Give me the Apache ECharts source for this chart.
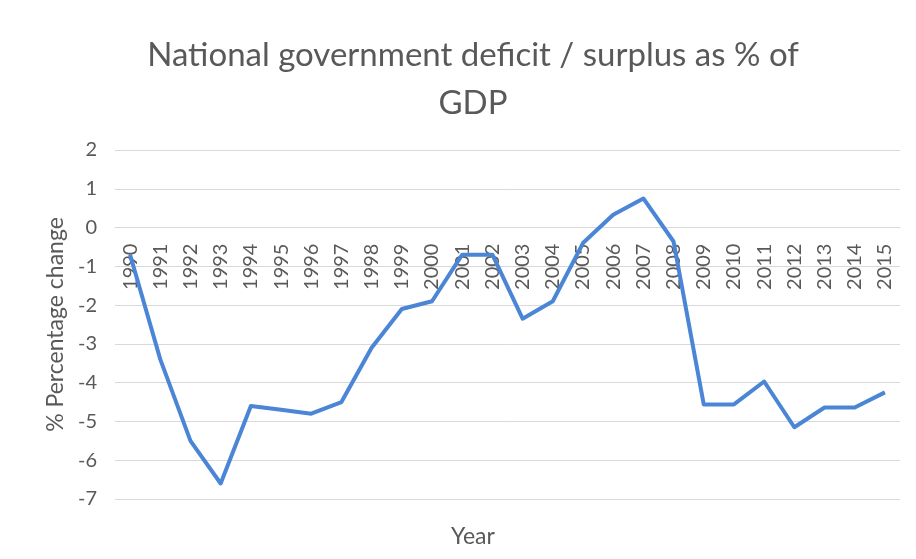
<!DOCTYPE html>
<html>
<head>
<meta charset="utf-8">
<script src="https://cdn.jsdelivr.net/npm/echarts@6/dist/echarts.min.js"></script>
<style>
  html, body { margin: 0; padding: 0; background: #ffffff; }
  #chart { width: 916px; height: 559px; }
</style>
</head>
<body>
<div id="chart"></div>
<script>
// Years on the category axis
const years = ['1990','1991','1992','1993','1994','1995','1996','1997','1998','1999',
  '2000','2001','2002','2003','2004','2005','2006','2007','2008','2009',
  '2010','2011','2012','2013','2014','2015'];

// Government balance, % of GDP
const balance = [-0.7, -3.4, -5.5, -6.6, -4.6, -4.7, -4.8, -4.5, -3.1, -2.1,
  -1.9, -0.7, -0.7, -2.35, -1.9, -0.4, 0.33, 0.75, -0.36, -4.56,
  -4.56, -3.97, -5.15, -4.64, -4.64, -4.25];

// Value axis range
const yMin = -7;
const yMax = 2;
const yStep = 1;

const textColor = '#595959';
const fontFamily = 'Lato, "Open Sans", sans-serif';

// Plot area
const gridTop = 150;
const gridBottom = 60;
const chartHeight = 559;
const plotHeight = chartHeight - gridTop - gridBottom;
// Shift the category axis up so it sits on the zero line
const zeroOffset = -((0 - yMin) / (yMax - yMin)) * plotHeight;

const chart = echarts.init(document.getElementById('chart'), null, { renderer: 'canvas' });

chart.setOption({
  backgroundColor: '#ffffff',
  animation: false,
  title: [
    {
      text: 'National government deficit / surplus as % of\nGDP',
      left: 468,
      top: 26,
      textAlign: 'center',
      textStyle: {
        color: textColor,
        fontFamily: fontFamily,
        fontSize: 33,
        fontWeight: 'normal',
        lineHeight: 48
      }
    },
    {
      text: 'Year',
      left: 468,
      top: 520,
      textAlign: 'center',
      textStyle: {
        color: textColor,
        fontFamily: fontFamily,
        fontSize: 23,
        fontWeight: 'normal'
      }
    }
  ],
  grid: { left: 115, right: 16, top: gridTop, bottom: gridBottom, containLabel: false },
  xAxis: {
    type: 'category',
    data: years,
    boundaryGap: true,
    position: 'bottom',
    offset: zeroOffset,
    axisLine: { onZero: false, lineStyle: { color: '#d9d9d9', width: 1 } },
    axisTick: { show: false },
    splitLine: { show: false },
    axisLabel: {
      rotate: 90,
      margin: 16,
      color: textColor,
      fontFamily: fontFamily,
      fontSize: 20,
      interval: 0
    }
  },
  yAxis: {
    type: 'value',
    min: yMin,
    max: yMax,
    interval: yStep,
    name: '% Percentage change',
    nameLocation: 'middle',
    nameRotate: 90,
    nameGap: 47,
    nameTextStyle: {
      color: textColor,
      fontFamily: fontFamily,
      fontSize: 23
    },
    axisLine: { show: false },
    axisTick: { show: false },
    axisLabel: {
      color: textColor,
      fontFamily: fontFamily,
      fontSize: 20,
      margin: 18
    },
    splitLine: { lineStyle: { color: '#d9d9d9', width: 1 } }
  },
  series: [
    {
      type: 'line',
      data: balance,
      symbol: 'none',
      smooth: false,
      lineStyle: { color: '#4a85d6', width: 4, join: 'round' },
      z: 3
    }
  ]
});
</script>
</body>
</html>
